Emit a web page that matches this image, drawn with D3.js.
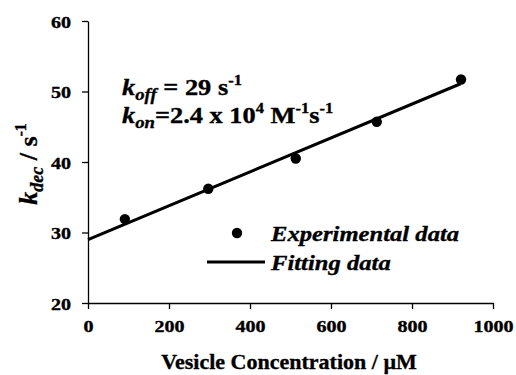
<!DOCTYPE html>
<html><head><meta charset="utf-8">
<script src="https://cdn.jsdelivr.net/npm/d3@7"></script>
<style>body{margin:0;background:#fff}svg{display:block}</style>
</head><body>
<script>
const expX = [91, 297, 513, 713, 921];
const expY = [31.9, 36.2, 40.5, 45.7, 51.7];
const fitX = [0, 920];
const fitY = [29.0, 51.1];
const xTicks = [0, 200, 400, 600, 800, 1000];
const yTicks = [20, 30, 40, 50, 60];

const FONT = "'Times New Roman', 'Liberation Serif', Tinos, 'DejaVu Serif', serif";
const W = 516, H = 375;
const svg = d3.select("body").append("svg").attr("width", W).attr("height", H)
  .attr("font-family", FONT).attr("font-weight", "bold");
const x = d3.scaleLinear().domain([0, 1000]).range([88, 493]);
const y = d3.scaleLinear().domain([20, 60]).range([303, 21]);

function txt(px, py, size, sx, anchor, rot) {
  const g = svg.append("g").attr("transform", `translate(${px},${py})` + (rot ? ` rotate(${rot})` : "") + ` scale(${sx},1)`);
  return g.append("text").attr("font-size", size).attr("text-anchor", anchor || "start")
    .attr("fill", "#000").attr("stroke", "#000").attr("stroke-width", 0.35);
}

const xa = svg.append("g").attr("transform", "translate(0,303)")
  .call(d3.axisBottom(x).tickValues(xTicks).tickFormat(d3.format("d")).tickSize(6).tickSizeOuter(0));
const ya = svg.append("g").attr("transform", "translate(88,0)")
  .call(d3.axisLeft(y).tickValues(yTicks).tickFormat(d3.format("d")).tickSize(6).tickSizeOuter(0));
[xa, ya].forEach(a => {
  a.attr("font-family", FONT).attr("font-size", 17).attr("font-weight", "bold");
  a.selectAll("path,line").attr("stroke", "#000").attr("stroke-width", 1.3);
  a.selectAll("text").attr("fill", "#000").attr("stroke", "#000").attr("stroke-width", 0.35);
});
xa.selectAll(".tick text").attr("y", 0).attr("dy", 0)
  .attr("transform", "translate(0,29) scale(1.18,1)");
ya.selectAll(".tick text").attr("x", 0).attr("dy", 0)
  .attr("transform", "translate(-17,6) scale(1.18,1)");

const line = d3.line().x(d => x(d[0])).y(d => y(d[1]));
svg.append("path").datum(d3.zip(fitX, fitY)).attr("d", line)
  .attr("fill", "none").attr("stroke", "#000").attr("stroke-width", 3);
svg.selectAll("circle.pt").data(d3.zip(expX, expY)).enter().append("circle")
  .attr("cx", d => x(d[0])).attr("cy", d => y(d[1])).attr("r", 5.2).attr("fill", "#000");

// annotations
const a1 = txt(122, 95, 24, 1.1);
a1.append("tspan").attr("font-style", "italic").text("k");
a1.append("tspan").attr("font-style", "italic").attr("font-size", 17).attr("dy", 5).text("off");
a1.append("tspan").attr("dy", -5).text(" = 29 s");
a1.append("tspan").attr("font-size", 15).attr("dy", -10).text("-1");

const a2 = txt(122, 123, 24, 1.1);
a2.append("tspan").attr("font-style", "italic").text("k");
a2.append("tspan").attr("font-style", "italic").attr("font-size", 17).attr("dy", 5).text("on");
a2.append("tspan").attr("dy", -5).text("=2.4 x 10");
a2.append("tspan").attr("font-size", 15).attr("dy", -10).text("4");
a2.append("tspan").attr("dy", 10).text(" M");
a2.append("tspan").attr("font-size", 15).attr("dy", -10).text("-1");
a2.append("tspan").attr("dy", 10).text("s");
a2.append("tspan").attr("font-size", 15).attr("dy", -10).text("-1");

// legend
svg.append("circle").attr("cx", 237).attr("cy", 233).attr("r", 5.2).attr("fill", "#000");
svg.append("line").attr("x1", 207).attr("x2", 265).attr("y1", 262).attr("y2", 262).attr("stroke", "#000").attr("stroke-width", 3);
txt(271, 241, 22, 1.12).attr("font-style", "italic").text("Experimental data");
txt(271, 270, 22, 1.12).attr("font-style", "italic").text("Fitting data");

// axis titles
txt(289, 369, 22, 1.0, "middle").text("Vesicle Concentration / µM");
const yt = txt(37, 164, 26, 1.0, "middle", -90);
yt.append("tspan").attr("font-style", "italic").text("k");
yt.append("tspan").attr("font-style", "italic").attr("font-size", 18).attr("dy", 6).text("dec");
yt.append("tspan").attr("dy", -6).text("  / s");
yt.append("tspan").attr("font-size", 16).attr("dy", -11).text("-1");
</script>
</body></html>
